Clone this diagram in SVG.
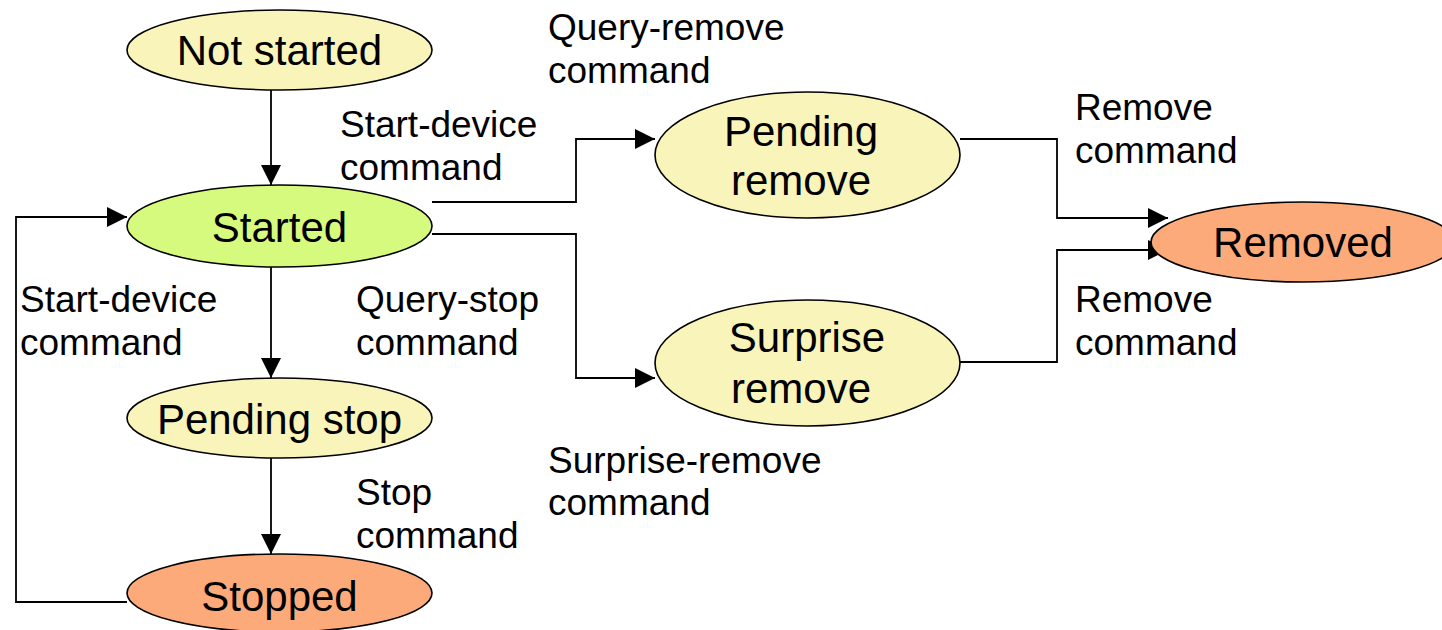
<svg xmlns="http://www.w3.org/2000/svg" width="1442" height="630" viewBox="0 0 1442 630">
  <style>
    .node ellipse { stroke: #000; stroke-width: 1.6; }
    .idle ellipse { fill: #F9F4BA; }
    .active ellipse { fill: #D6FA7E; }
    .final ellipse { fill: #FCAA7A; }
    .node text { font-family: "Liberation Sans", Arial, sans-serif; font-size: 42px; fill: #000; text-anchor: middle; }
    .edge { fill: none; stroke: #000; stroke-width: 1.8; }
    .lbl { font-family: "Liberation Sans", Arial, sans-serif; font-size: 37px; fill: #000; }
  </style>
  <defs>
    <marker id="arrow" viewBox="0 0 20 20" refX="20" refY="10" markerWidth="20" markerHeight="20" markerUnits="userSpaceOnUse" orient="auto">
      <path d="M0,0 L20,10 L0,20 Z" fill="#000"/>
    </marker>
  </defs>

  <rect width="1442" height="630" fill="#fff"/>

  <!-- connectors -->
  <g id="connectors">
    <path class="edge" d="M271,90 V185" marker-end="url(#arrow)"/>
    <path class="edge" d="M271,267 V378" marker-end="url(#arrow)"/>
    <path class="edge" d="M271,458 V554" marker-end="url(#arrow)"/>
    <path class="edge" d="M127,602 H16 V217 H127" marker-end="url(#arrow)"/>
    <path class="edge" d="M432,202 H576 V139 H655" marker-end="url(#arrow)"/>
    <path class="edge" d="M432,234 H576 V378 H655" marker-end="url(#arrow)"/>
    <path class="edge" d="M960,139 H1057 V218 H1168" marker-end="url(#arrow)"/>
    <path class="edge" d="M960,362 H1057 V250 H1168" marker-end="url(#arrow)"/>
  </g>

  <!-- connector labels -->
  <g id="labels">
    <text class="lbl" x="548" y="40">Query-remove</text>
    <text class="lbl" x="548" y="83">command</text>
    <text class="lbl" x="340" y="137">Start-device</text>
    <text class="lbl" x="340" y="180">command</text>
    <text class="lbl" x="1075" y="120">Remove</text>
    <text class="lbl" x="1075" y="163">command</text>
    <text class="lbl" x="1075" y="312">Remove</text>
    <text class="lbl" x="1075" y="355">command</text>
    <text class="lbl" x="20" y="312">Start-device</text>
    <text class="lbl" x="20" y="355">command</text>
    <text class="lbl" x="356" y="312">Query-stop</text>
    <text class="lbl" x="356" y="355">command</text>
    <text class="lbl" x="548" y="473">Surprise-remove</text>
    <text class="lbl" x="548" y="515">command</text>
    <text class="lbl" x="356" y="505">Stop</text>
    <text class="lbl" x="356" y="548">command</text>
  </g>

  <!-- states -->
  <g id="not-started" class="node idle">
    <ellipse cx="279.5" cy="50" rx="152.5" ry="40"/>
    <text x="279.5" y="65">Not started</text>
  </g>
  <g id="started" class="node active">
    <ellipse cx="279.5" cy="226" rx="152.5" ry="41"/>
    <text x="279.5" y="242">Started</text>
  </g>
  <g id="pending-stop" class="node idle">
    <ellipse cx="279.5" cy="418" rx="152.5" ry="40"/>
    <text x="279.5" y="434">Pending stop</text>
  </g>
  <g id="stopped" class="node final">
    <ellipse cx="279.5" cy="593" rx="152.5" ry="39"/>
    <text x="279.5" y="611">Stopped</text>
  </g>
  <g id="pending-remove" class="node idle">
    <ellipse cx="807.5" cy="155" rx="152.5" ry="63"/>
    <text x="801" y="146">Pending</text>
    <text x="801" y="195">remove</text>
  </g>
  <g id="surprise-remove" class="node idle">
    <ellipse cx="807.5" cy="363" rx="152.5" ry="63"/>
    <text x="807" y="352">Surprise</text>
    <text x="801" y="403">remove</text>
  </g>
  <g id="removed" class="node final">
    <ellipse cx="1303" cy="242" rx="152" ry="40"/>
    <text x="1303" y="257">Removed</text>
  </g>
</svg>
